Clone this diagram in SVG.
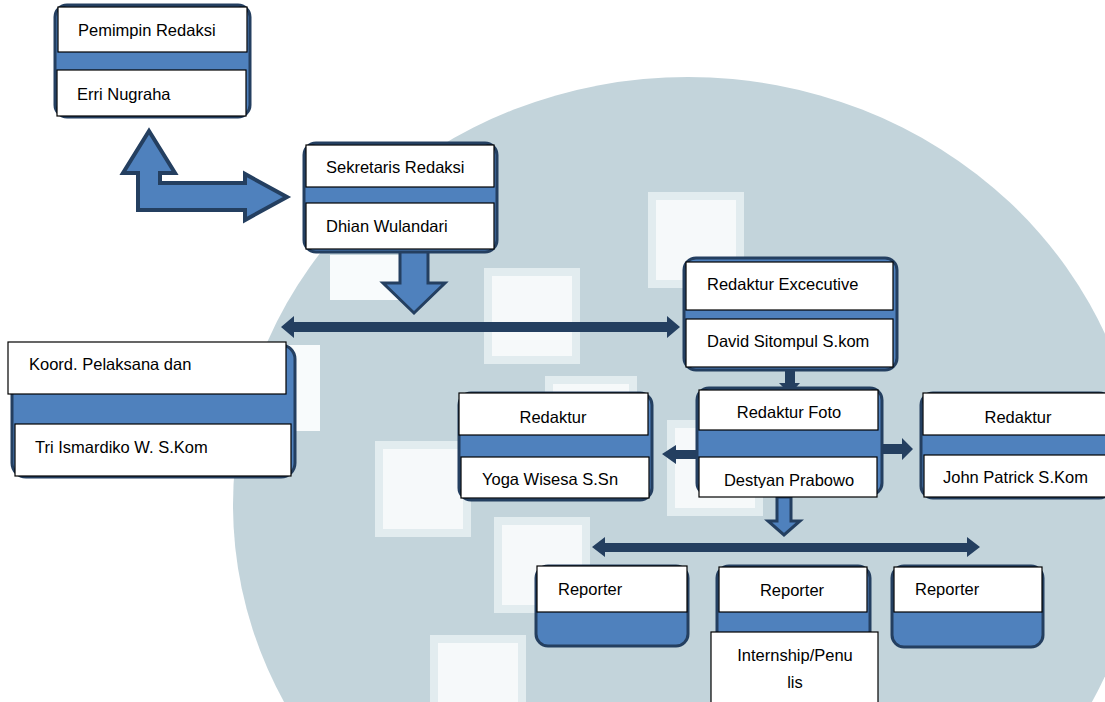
<svg xmlns="http://www.w3.org/2000/svg" width="1105" height="702" viewBox="0 0 1105 702">
<style>
.outer{fill:#4f81bd;stroke:#243f60;stroke-width:3}
.wb{fill:#ffffff;stroke:#000000;stroke-width:1.2}
.t{font-family:"Liberation Sans",Arial,sans-serif;font-size:16.5px;fill:#000000}
.c{text-anchor:middle}
.dark{fill:#243f60;stroke:none}
.block{fill:#4f81bd;stroke:#243f60;stroke-width:4;stroke-linejoin:miter}
.sq{fill:#f6f9fa;stroke:#e2ecef;stroke-width:8}
</style>
<defs>
<clipPath id="clipFoto"><rect x="699" y="457" width="178" height="31"/></clipPath>
</defs>
<rect x="0" y="0" width="1105" height="702" fill="#ffffff"/>
<g id="watermark">
<ellipse cx="688" cy="505" rx="455" ry="428" fill="#c3d4db"/>
<rect class="sq" x="652" y="196" width="88" height="88"/>
<rect class="sq" x="488" y="272" width="88" height="88"/>
<rect class="sq" x="379" y="445" width="88" height="88"/>
<rect class="sq" x="498" y="521" width="88" height="88"/>
<rect class="sq" x="434" y="639" width="88" height="70"/>
<rect class="sq" x="671" y="424" width="88" height="88"/>
<rect class="sq" x="549" y="380" width="84" height="84"/>
<rect x="250" y="345" width="70" height="86" fill="#f8fbfc"/>
<rect x="330" y="255" width="70" height="45" fill="#f8fbfc"/>
</g>
<g id="connectors">
<polygon class="block" points="149,131 175,173 160,173 160,183 245,183 245,174 287,197 245,220 245,210 138,210 138,173 123,173"/>
<polygon class="block" style="stroke-width:3" points="400,250 428,250 428,283 445,283 414,313 383,283 400,283"/>
<polygon class="dark" points="281,327 294,316 294,322 667,322 667,316 680,327 667,338 667,332 294,332 294,338"/>
<polygon class="dark" points="785,370 795,370 795,383 800,383 790,394 779,383 785,383"/>
<polygon class="dark" points="662,454 676,445 676,450 700,450 700,459 676,459 676,464"/>
<polygon class="dark" points="882,444 902,444 902,438 913,449 902,460 902,454 882,454"/>
<polygon class="block" style="stroke-width:3" points="777,497 791,497 791,521 800,521 784,535 768,521 777,521"/>
<polygon class="dark" points="592,547 605,537 605,543 967,543 967,537 980,547 967,557 967,552 605,552 605,557"/>
</g>
<g id="pemimpin">
<rect class="outer" x="55" y="5" width="195" height="112" rx="12"/>
<rect class="wb" x="58" y="7" width="189" height="45"/>
<rect class="wb" x="57" y="70" width="189" height="46"/>
<text class="t" x="78" y="36">Pemimpin Redaksi</text>
<text class="t" x="77" y="100">Erri Nugraha</text>
</g>
<g id="sekretaris">
<rect class="outer" x="304" y="143" width="193" height="109" rx="12"/>
<rect class="wb" x="306" y="145" width="188" height="42"/>
<rect class="wb" x="306" y="203" width="188" height="46"/>
<text class="t" x="326" y="173">Sekretaris Redaksi</text>
<text class="t" x="326" y="232">Dhian Wulandari</text>
</g>
<g id="executive">
<rect class="outer" x="684" y="258" width="213" height="112" rx="12"/>
<rect class="wb" x="686" y="262" width="207" height="48"/>
<rect class="wb" x="686" y="319" width="207" height="48"/>
<text class="t" x="707" y="290">Redaktur Excecutive</text>
<text class="t" x="707" y="347">David Sitompul S.kom</text>
</g>
<g id="koord">
<rect class="outer" x="12" y="345" width="283" height="132" rx="14"/>
<rect class="wb" x="8" y="342" width="278" height="52"/>
<rect class="wb" x="15" y="424" width="276" height="52"/>
<text class="t" x="29" y="370">Koord. Pelaksana dan</text>
<text class="t" x="35" y="453">Tri Ismardiko W. S.Kom</text>
</g>
<g id="redaktur-yoga">
<rect class="outer" x="459" y="393" width="193" height="107" rx="12"/>
<rect class="wb" x="459" y="393" width="189" height="42"/>
<rect class="wb" x="461" y="457" width="188" height="41"/>
<text class="t c" x="553" y="423">Redaktur</text>
<text class="t" x="482" y="485">Yoga Wisesa S.Sn</text>
</g>
<g id="redaktur-foto">
<rect class="outer" x="697" y="388" width="185" height="107" rx="12"/>
<rect class="wb" x="699" y="390" width="179" height="40"/>
<rect class="wb" x="699" y="457" width="178" height="40"/>
<text class="t c" x="789" y="418">Redaktur Foto</text>
<text class="t c" x="789" y="486" clip-path="url(#clipFoto)">Destyan Prabowo</text>
</g>
<g id="redaktur-john">
<rect class="outer" x="921" y="393" width="190" height="105" rx="12"/>
<rect class="wb" x="923" y="393" width="185" height="42"/>
<rect class="wb" x="924" y="455" width="185" height="42"/>
<text class="t c" x="1018" y="423">Redaktur</text>
<text class="t" x="943" y="483">John Patrick S.Kom</text>
</g>
<g id="reporter-1">
<rect class="outer" x="536" y="566" width="152" height="80" rx="12"/>
<rect class="wb" x="537" y="566" width="150" height="46"/>
<text class="t" x="558" y="595">Reporter</text>
</g>
<g id="reporter-2">
<rect class="outer" x="717" y="566" width="153" height="80" rx="12"/>
<rect class="wb" x="719" y="567" width="148" height="45"/>
<text class="t c" x="792" y="596">Reporter</text>
<rect class="wb" x="711" y="632" width="167" height="80"/>
<text class="t c" x="795" y="661">Internship/Penu</text>
<text class="t c" x="795" y="688">lis</text>
</g>
<g id="reporter-3">
<rect class="outer" x="892" y="566" width="151" height="81" rx="12"/>
<rect class="wb" x="894" y="567" width="148" height="45"/>
<text class="t" x="915" y="595">Reporter</text>
</g>
</svg>
